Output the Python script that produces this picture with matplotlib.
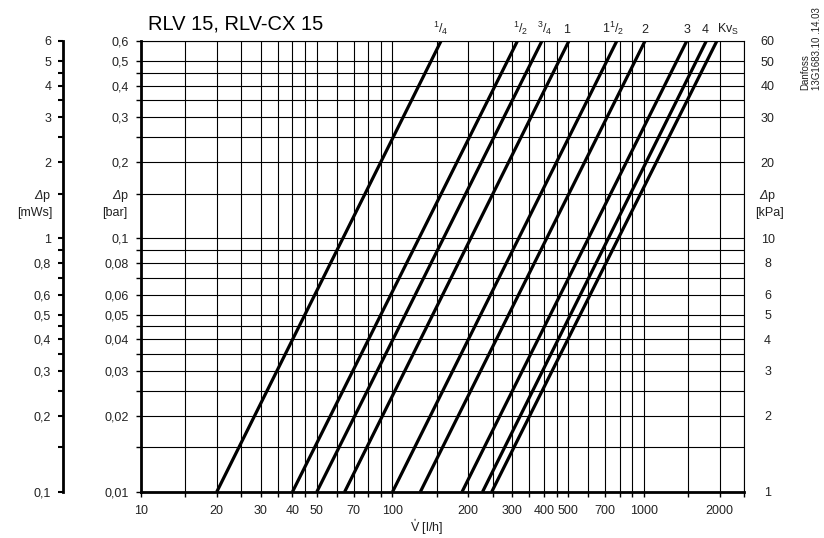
import matplotlib
matplotlib.use("Agg")
import matplotlib.pyplot as plt
from matplotlib.ticker import FixedLocator, FixedFormatter, NullLocator

plt.rcParams["font.family"] = ["Liberation Sans", "DejaVu Sans"]
plt.rcParams["mathtext.fontset"] = "custom"
plt.rcParams["mathtext.rm"] = "Liberation Sans"
plt.rcParams["mathtext.it"] = "Liberation Sans:italic"
plt.rcParams["mathtext.sf"] = "Liberation Sans:italic"   # used for the slanted delta
plt.rcParams["mathtext.default"] = "regular"

# --
# Data
# --
# flow [l/h] at 0.01 bar and at 0.6 bar for each presetting line
q_low = [20, 40, 50, 64.5, 100, 129, 189, 228, 248]
q_high = [156, 314, 393, 503, 780, 1010, 1480, 1770, 1950]
dp_range = [0.01, 0.6]
settings = [r"$^1/_4$", r"$^1/_2$", r"$^3/_4$", "1", r"1$^1/_2$", "2", "3", "4", r"Kv$_S$"]

x_grid = [10, 15, 20, 25, 30, 35, 40, 45, 50, 60, 70, 80, 90, 100,
          150, 200, 250, 300, 350, 400, 450, 500, 600, 700, 800, 900, 1000,
          1500, 2000, 2500]
x_labels = ["10", "", "20", "", "30", "", "40", "", "50", "", "70", "", "", "100",
            "", "200", "", "300", "", "400", "", "500", "", "700", "", "", "1000",
            "", "2000", ""]

dp_grid = [0.01, 0.015, 0.02, 0.025, 0.03, 0.035, 0.04, 0.045, 0.05, 0.06, 0.07,
           0.08, 0.09, 0.1, 0.15, 0.2, 0.25, 0.3, 0.35, 0.4, 0.45, 0.5, 0.6]
DP = r"$\mathsf{\Delta}$p"
bar_labels = ["0,01", "", "0,02", "", "0,03", "", "0,04", "", "0,05", "0,06", "",
              "0,08", "", "0,1", DP, "0,2", "", "0,3", "", "0,4", "", "0,5", "0,6"]
mws_labels = ["0,1", "", "0,2", "", "0,3", "", "0,4", "", "0,5", "0,6", "",
              "0,8", "", "1", DP, "2", "", "3", "", "4", "", "5", "6"]
kpa_labels = ["1", "", "2", "", "3", "", "4", "", "5", "6", "",
              "8", "", "10", DP, "20", "", "30", "", "40", "", "50", "60"]

# label nudges in points (layout only)
label_dx = [0, 2, 2, -1.5, -2.5, 0, 0, -1, 8]

FS = 9
TXT = "#222222"

W, H = 824, 538
fig = plt.figure(figsize=(W / 100, H / 100), dpi=100)

bottom = 1 - 492 / H
height = (492 - 41) / H
ax = fig.add_axes([141 / W, bottom, (744 - 141) / W, height])
ax.set_xscale("log")
ax.set_yscale("log")
ax.set_xlim(10, 2500)
ax.set_ylim(0.01, 0.6)

ax.xaxis.set_major_locator(FixedLocator(x_grid))
ax.xaxis.set_major_formatter(FixedFormatter(x_labels))
ax.xaxis.set_minor_locator(NullLocator())
ax.yaxis.set_major_locator(FixedLocator(dp_grid))
ax.yaxis.set_major_formatter(FixedFormatter(bar_labels))
ax.yaxis.set_minor_locator(NullLocator())
ax.grid(True, which="major", color="black", linewidth=0.8)
ax.tick_params(axis="both", direction="out", length=3.5, width=1,
               labelsize=FS, labelcolor=TXT)
ax.tick_params(axis="y", pad=5)
ax.tick_params(axis="x", pad=6)

for side in ["left", "bottom"]:
    ax.spines[side].set_linewidth(2)
for side in ["top", "right"]:
    ax.spines[side].set_linewidth(0.8)

for i in range(len(q_low)):
    ax.plot([q_low[i], q_high[i]], dp_range, color="black", linewidth=2.3,
            solid_capstyle="butt", zorder=3)
    ax.annotate(settings[i], xy=(q_high[i], dp_range[1]), xycoords="data",
                xytext=(label_dx[i], 5.5), textcoords="offset points",
                ha="center", va="baseline", fontsize=FS, color=TXT,
                annotation_clip=False)

# kPa scale on the right
axr = ax.twinx()
axr.set_yscale("log")
axr.set_ylim(0.01, 0.6)
axr.yaxis.set_major_locator(FixedLocator(dp_grid))
axr.yaxis.set_major_formatter(FixedFormatter(kpa_labels))
axr.yaxis.set_minor_locator(NullLocator())
axr.tick_params(axis="y", length=0, pad=17, labelsize=FS, labelcolor=TXT)
for lab in axr.get_yticklabels():
    lab.set_horizontalalignment("center")
for s in axr.spines.values():
    s.set_visible(False)

# mWs scale on the far left
axm = fig.add_axes([63 / W, bottom, 0.0001, height])
axm.set_yscale("log")
axm.set_ylim(0.1, 6)
axm.yaxis.set_major_locator(FixedLocator([v * 10 for v in dp_grid]))
axm.yaxis.set_major_formatter(FixedFormatter(mws_labels))
axm.yaxis.set_minor_locator(NullLocator())
axm.set_xticks([])
axm.patch.set_visible(False)
for side in ["top", "right", "bottom"]:
    axm.spines[side].set_visible(False)
axm.spines["left"].set_linewidth(2)
axm.tick_params(axis="y", direction="out", length=3.5, width=1.5,
                labelsize=FS, labelcolor=TXT, pad=5)

# unit texts
fig.text(53 / W, 1 - 213 / H, "[mWs]", ha="right", va="center", fontsize=FS, color=TXT)
fig.text(127 / W, 1 - 213 / H, "[bar]", ha="right", va="center", fontsize=FS, color=TXT)
fig.text(770 / W, 1 - 213 / H, "[kPa]", ha="center", va="center", fontsize=FS, color=TXT)

fig.text(410 / W, 1 - 527 / H, r"$\mathring{V}$ [l/h]", ha="left", va="center",
         fontsize=9, color=TXT)

fig.text(148 / W, 1 - 29 / H, "RLV 15, RLV-CX 15", ha="left", va="baseline",
         fontsize=14.5, color="black")

fig.text(0.997, 1 - 90 / H, "Danfoss\n13G1683.10 .14.03", rotation=90,
         ha="right", va="bottom", multialignment="left", fontsize=7, color=TXT)

fig.savefig("out.png", dpi=100)
